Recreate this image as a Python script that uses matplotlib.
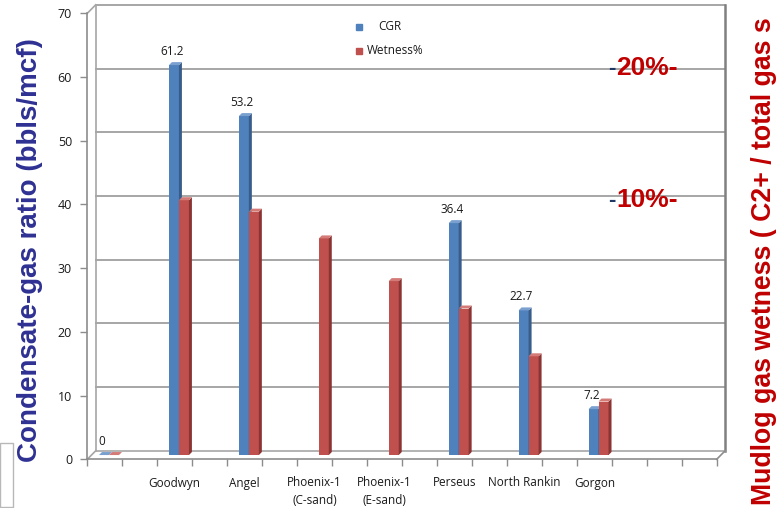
import matplotlib.pyplot as plt
import numpy as np
from matplotlib.patches import Rectangle
from matplotlib.transforms import blended_transform_factory

# 18 category slots, only every other one carries a name (as in the Excel chart)
categories = ['', '', 'Goodwyn', '', 'Angel', '', 'Phoenix-1\n(C-sand)', '',
              'Phoenix-1\n(E-sand)', '', 'Perseus', '', 'North Rankin', '',
              'Gorgon', '', '', '']
cgr = [0, np.nan, 61.2, np.nan, 53.2, np.nan, np.nan, np.nan, np.nan, np.nan,
       36.4, np.nan, 22.7, np.nan, 7.2, np.nan, np.nan, np.nan]
wetness = [0, np.nan, 40.0, np.nan, 38.2, np.nan, 34.0, np.nan, 27.3, np.nan,
           23.0, np.nan, 15.5, np.nan, 8.4, np.nan, np.nan, np.nan]
cgr_labels = ['0', '', '61.2', '', '53.2', '', '', '', '', '', '36.4', '',
              '22.7', '', '7.2', '', '', '']

W, H = 780, 508
fig = plt.figure(figsize=(W / 100, H / 100), dpi=100)
fig.patch.set_facecolor('white')

# front plane of the pseudo-3D box
x0px, x1px, y0px, y1px = 87.3, 716.7, 459.3, 13.3
ax = fig.add_axes([x0px / W, 1 - y0px / H, (x1px - x0px) / W, (y0px - y1px) / H])
n = len(categories)
ax.set_xlim(-0.5, n - 0.5)
ax.set_ylim(0, 70)
for s in ax.spines.values():
    s.set_visible(False)

xs = (x1px - x0px) / n          # px per category
ys = (y0px - y1px) / 70         # px per unit
bx, by = 8.4 / xs, 8.5 / ys     # depth offset of back wall (data units)
mx, my = bx / 2, by / 2         # bars sit mid-depth
sx, sy = 3 / xs, 3 / ys         # bar thickness
bw = 10 / xs

grid_c = '#a6a6a6'
L, R = -0.5, n - 0.5
# back wall grid
for g in range(10, 80, 10):
    ax.plot([L + bx, R + bx], [g + by, g + by], color=grid_c, lw=1.4, zorder=1, clip_on=False)
ax.plot([L + bx, L + bx], [by, 70 + by], color=grid_c, lw=1.2, zorder=1, clip_on=False)
ax.plot([R + bx, R + bx], [by, 70 + by], color='#808080', lw=1.8, zorder=1, clip_on=False)
# left wall edges
ax.plot([L, L + bx], [70, 70 + by], color=grid_c, lw=1.2, zorder=1, clip_on=False)
ax.plot([L, L + bx], [0, by], color=grid_c, lw=1.2, zorder=1, clip_on=False)
# floor
ax.plot([L + bx, R + bx], [by, by], color=grid_c, lw=1.2, zorder=1, clip_on=False)
ax.plot([L, R], [0, 0], color='#8c8c8c', lw=1.2, zorder=1, clip_on=False)
ax.plot([R, R + bx], [0, by], color='#8c8c8c', lw=1.2, zorder=1, clip_on=False)
ax.plot([L, L], [0, 70], color='#8c8c8c', lw=1.2, zorder=1, clip_on=False)

ax.set_yticks(range(0, 80, 10))
ax.tick_params(axis='y', length=5, width=1, color='#8c8c8c', pad=6, labelsize=9,
               labelcolor='#1a1a1a')
ax.set_xticks(np.arange(-0.5, n, 1.0))
ax.set_xticklabels([])
ax.tick_params(axis='x', length=5, width=1, color='#8c8c8c')
for lab in ax.get_yticklabels():
    lab.set_family('Open Sans')

trans = blended_transform_factory(ax.transData, fig.transFigure)
for i, name in enumerate(categories):
    if name:
        lines = name.split('\n')
        for k, line in enumerate(lines):
            ax.text(i, 1 - (483 + 18 * k) / H, line, transform=trans, ha='center',
                    va='center', fontsize=8.5, family='Open Sans', color='#1a1a1a')


def bar3d(x, v, front, side, top):
    if np.isnan(v):
        return
    ax.bar(x, v, width=bw, bottom=my, align='edge', color=front, lw=0, zorder=3)
    ax.fill([x + bw, x + bw, x + bw + sx, x + bw + sx],
            [my, v + my, v + my + sy, my + sy], color=side, lw=0, zorder=3)
    ax.fill([x, x + bw, x + bw + sx, x + sx],
            [v + my, v + my, v + my + sy, v + my + sy], color=top, lw=0, zorder=3)


for i in range(n):
    c = i + mx
    bar3d(c - bw, cgr[i], '#4f81bd', '#385d8a', '#7aa0d0')
    bar3d(c, wetness[i], '#c0504d', '#8a3533', '#d47a77')
    if cgr_labels[i]:
        ax.text(c - bw / 2 - 2 / xs, cgr[i] + my + 14 / ys, cgr_labels[i],
                ha='center', va='center', fontsize=8.5, family='Open Sans',
                color='#1a1a1a', zorder=4)

# legend
fig.patches.append(Rectangle((356 / W, 1 - 30 / H), 6 / W, 6 / H,
                             transform=fig.transFigure, color='#4f81bd'))
fig.patches.append(Rectangle((356 / W, 1 - 54 / H), 6 / W, 6 / H,
                             transform=fig.transFigure, color='#c0504d'))
fig.text(378 / W, 1 - 27 / H, 'CGR', fontsize=8.5, family='Open Sans',
         va='center', color='#1a1a1a')
fig.text(367 / W, 1 - 51 / H, 'Wetness%', fontsize=8.5, family='Open Sans',
         va='center', color='#1a1a1a')

# wetness scale marks
for yy, t in [(68, '20%-'), (200, '10%-')]:
    fig.text(612 / W, 1 - (yy + 1) / H, '-', fontsize=16, fontweight='bold',
             family='Liberation Sans', color='#1f3864', ha='center', va='center')
    fig.text(616 / W, 1 - yy / H, t, fontsize=19, fontweight='bold',
             family='Liberation Sans', color='#c00000', ha='left', va='center')

fig.text(30 / W, 1 - 250 / H, 'Condensate-gas ratio (bbls/mcf)', rotation=90,
         fontsize=20, fontweight='bold', family='Liberation Sans', color='#2e3192',
         ha='center', va='center')
fig.text(764 / W, 3 / H, 'Mudlog gas wetness ( C2+ / total gas s', rotation=90,
         fontsize=19.2, fontweight='bold', family='Liberation Sans', color='#c00000',
         ha='center', va='bottom')

# screenshot remnant at bottom left
fig.patches.append(Rectangle((0, 1 / H), 13 / W, 64 / H, transform=fig.transFigure,
                             facecolor='white', edgecolor='#b8b8b8', lw=1))

fig.savefig('out.png', dpi=100)
